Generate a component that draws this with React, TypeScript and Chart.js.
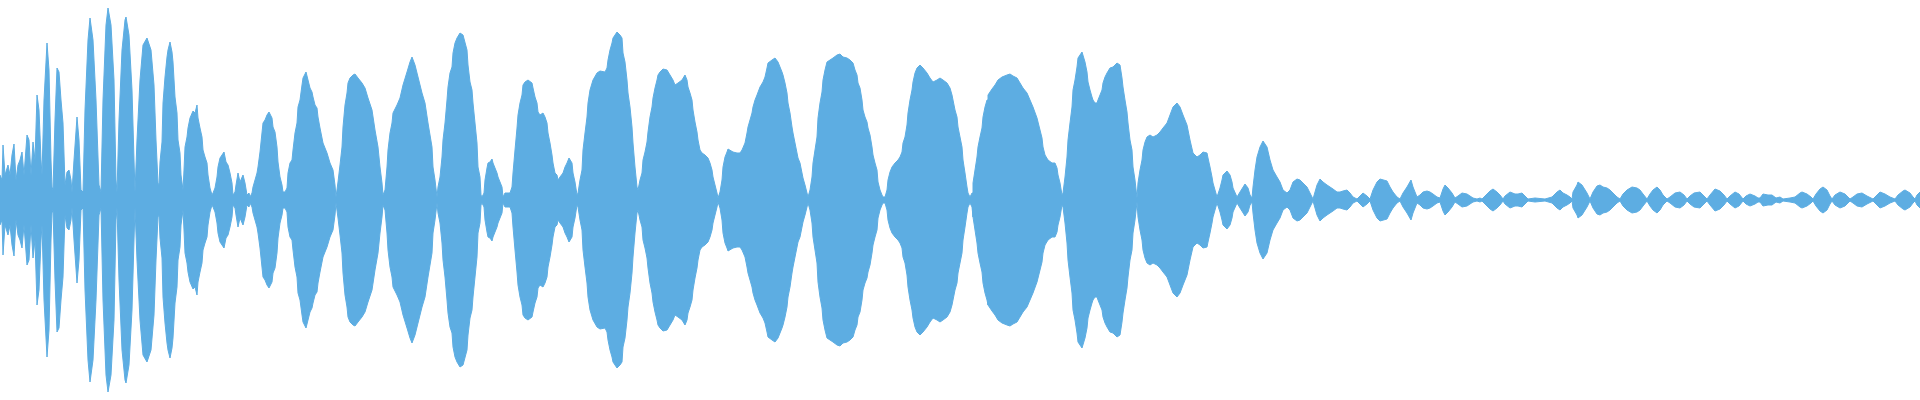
import React, { useEffect, useRef } from "react";
import { Chart, registerables } from "chart.js";

Chart.register(...registerables);

// Sample position (column index along the clip, 0..1920) of each envelope reading
const TIME = [
  0, 2, 3, 5, 8, 10, 12, 14, 16, 18, 20, 22, 24, 27, 29, 31, 33, 35, 37, 39, 41, 42, 44, 47, 49, 51, 52, 53, 55, 57, 59, 61, 63, 65, 67, 69, 71, 72, 74, 77, 79, 81, 83,
  85, 88, 90, 93, 96, 99, 101, 103, 106, 108, 111, 114, 116, 117, 119, 122, 125, 126, 129, 132, 134, 135, 137, 140, 143, 147, 151, 154, 156, 158, 159,
  160, 162, 163, 165, 167, 168, 170, 172, 173, 175, 177, 178, 180, 181, 183,
  184, 185, 187, 188, 190, 193, 195, 197, 198, 200, 202, 203, 205, 207, 208, 210, 212,
  213, 215, 217, 218, 220, 222, 224, 226, 228, 230, 232, 233,
  235, 236, 238, 240, 243, 245, 247, 249, 250,
  252, 253, 257, 258, 260, 263, 265, 267, 269, 272, 273, 275, 277, 278, 280, 282, 283, 285,
  287, 288, 290, 292, 293, 295, 297, 298, 300, 302, 303, 306, 308, 310, 312, 313, 315, 317, 318, 320,
  323, 327, 330, 333, 335, 336,
  338, 340, 342, 343, 345, 347, 348, 350, 353, 355, 358, 362, 365, 368, 372, 375, 378, 380, 382, 383,
  385, 387, 388, 390, 392, 393, 397, 400, 403, 407, 410, 412, 415, 418, 422, 425, 428, 432, 433, 435, 437,
  438, 440, 442, 443, 445, 447, 448, 450, 452, 453, 455, 457, 460, 463, 467, 468, 470, 472, 473, 475, 477, 478, 480, 481, 482,
  484, 485, 487, 488, 490, 492, 493, 495, 497, 498, 500, 502, 503, 505, 510,
  512, 513, 515, 517, 518, 520, 522, 523, 525, 528, 532, 533, 535, 537, 538, 540, 543, 545, 547, 548, 550, 552, 553, 555, 557, 558,
  560, 563, 565, 567, 569, 572, 573, 575, 577,
  578, 580, 582, 583, 585, 587, 588, 590, 593, 597, 600, 605, 607, 608, 610, 612, 613, 617, 620, 622, 623, 625, 627, 628, 630, 632, 633, 635, 637, 638,
  640, 642, 643, 645, 647, 648, 650, 652, 653, 655, 657, 658, 660, 663, 667, 670, 673, 675, 678, 682, 685, 687, 688, 690, 692, 693, 695, 697, 698, 700, 702, 705, 708, 710, 712, 713, 715, 717, 718,
  720, 722, 723, 725, 727, 728, 733, 737, 740, 742, 745, 747, 748, 750, 752, 753, 755, 757, 760, 763, 765, 767, 768, 772, 775, 778, 782, 783, 785, 787, 788, 790, 792, 793, 795, 797, 798, 800,
  802, 803, 805, 807, 808,
  810, 812, 813, 815, 817, 818, 820, 822, 823, 825, 827, 830, 833, 837, 840, 843, 847, 850, 853, 855, 857, 858, 860, 862, 863, 865, 867, 868, 870, 872, 873, 875, 877, 878, 880, 882, 883,
  885, 887, 888, 890, 892, 895, 898, 900, 902, 903, 905, 907, 908, 910, 912, 913, 915, 917, 920, 923, 927, 930, 933, 937, 940, 943, 947, 950, 952, 953, 955, 957, 958, 960,
  962, 963, 965, 967, 968, 970, 972,
  973, 975, 977, 978, 980, 982, 983, 985, 987, 988, 992, 995, 998, 1002, 1007, 1010, 1013, 1017, 1020, 1023, 1027, 1030, 1033, 1037, 1040, 1042, 1043, 1045, 1048, 1052, 1055, 1057, 1058, 1060, 1062,
  1063, 1065, 1067, 1068, 1070, 1072, 1073, 1075, 1077, 1078, 1082, 1085, 1087, 1088, 1090, 1092, 1093, 1095, 1097, 1098, 1100, 1102, 1103, 1105, 1107, 1110, 1113, 1117, 1120,
  1122, 1123, 1125, 1127, 1128, 1130, 1132, 1133, 1135, 1137,
  1138, 1140, 1142, 1143, 1145, 1147, 1150, 1153, 1157, 1160, 1163, 1167, 1170, 1173, 1177, 1180, 1183, 1187, 1190, 1193, 1197, 1200, 1203, 1207, 1208, 1210, 1212, 1213, 1215, 1217,
  1220, 1222, 1223, 1227, 1230, 1232, 1233, 1237,
  1240, 1245, 1248, 1250, 1252,
  1253, 1255, 1257, 1260, 1263, 1267, 1270, 1273, 1277, 1280,
  1283, 1287, 1290, 1293, 1297, 1300, 1303, 1307, 1310, 1313,
  1315, 1317, 1320, 1323, 1327, 1330, 1333, 1337, 1340, 1343, 1347, 1350, 1353, 1357,
  1360, 1363, 1367, 1370,
  1373, 1377, 1380, 1387, 1390, 1393, 1397, 1400,
  1403, 1407, 1411, 1413, 1417,
  1420, 1423, 1427, 1430, 1433, 1437, 1440,
  1441, 1443, 1445, 1448, 1452, 1455,
  1458, 1462, 1467, 1470, 1473, 1477, 1480, 1482,
  1483, 1487, 1490, 1493, 1497, 1500, 1503,
  1505, 1510, 1515, 1518, 1522, 1525, 1528,
  1535, 1545,
  1552, 1557, 1560, 1563, 1567, 1570, 1572,
  1573, 1577, 1578, 1582, 1587, 1590,
  1593, 1597, 1600,
  1603, 1607, 1610, 1613, 1617, 1620,
  1623, 1627, 1632, 1637, 1640, 1643, 1647,
  1650, 1653, 1657, 1660, 1663, 1667,
  1670, 1675, 1680, 1684, 1687,
  1690, 1694, 1700, 1703, 1707,
  1710, 1715, 1720, 1724, 1727,
  1730, 1735, 1739, 1743,
  1746, 1750, 1755, 1758, 1760,
  1763, 1768, 1772, 1776,
  1780, 1783, 1790,
  1795, 1800, 1802, 1807, 1811, 1813,
  1816, 1820, 1823, 1827, 1830, 1832,
  1835, 1840, 1845, 1848, 1850,
  1853, 1857, 1862, 1867, 1871, 1873,
  1877, 1880, 1885, 1890, 1895,
  1898, 1903, 1905, 1910, 1913, 1915,
  1917, 1920,
];

// Peak amplitude of the waveform at each TIME (symmetric around zero, full scale = 200)
const AMPLITUDE = [
  25, 20, 55, 25, 35, 25, 45, 56, 20, 35, 40, 48, 25, 65, 60, 25, 58, 40, 105, 90, 40, 25, 100, 157, 130, 40, 13, 10, 80, 132, 128, 100, 77, 15, 28, 30, 20, 8, 40, 83, 60, 10, 8,
  90, 160, 182, 160, 100, 15, 8, 100, 175, 192, 175, 120, 20, 8, 80, 150, 180, 183, 165, 110, 40, 8, 60, 120, 155, 162, 150, 115, 60, 17, 15,
  38, 58, 97, 123, 143, 150, 158, 148, 138, 103, 87, 60, 47, 25, 10,
  30, 53, 63, 72, 82, 89, 87, 95, 82, 72, 63, 50, 43, 37, 25, 12, 5,
  7, 12, 23, 33, 42, 45, 48, 38, 35, 27, 17, 5,
  8, 15, 27, 18, 25, 17, 5, 7, 3,
  7, 13, 27, 33, 48, 77, 80, 85, 88, 82, 73, 68, 53, 38, 23, 15, 8, 8,
  12, 27, 37, 40, 50, 67, 77, 93, 100, 115, 122, 128, 120, 112, 108, 103, 95, 92, 83, 72,
  57, 47, 37, 30, 15, 3,
  18, 35, 53, 73, 95, 107, 117, 122, 125, 126, 122, 117, 112, 102, 90, 70, 53, 33, 17, 5,
  10, 33, 50, 67, 77, 87, 95, 102, 115, 128, 138, 143, 135, 123, 107, 97, 77, 53, 33, 20, 3,
  13, 23, 43, 60, 77, 100, 113, 127, 133, 147, 157, 162, 167, 165, 150, 135, 118, 110, 97, 77, 57, 33, 23, 5, 3,
  7, 20, 32, 37, 38, 41, 37, 32, 27, 23, 18, 13, 3, 7, 7,
  13, 27, 50, 72, 85, 97, 105, 115, 118, 120, 117, 112, 103, 97, 88, 85, 87, 83, 77, 67, 57, 45, 37, 27, 25, 20,
  23, 27, 33, 37, 42, 37, 27, 18, 5,
  7, 20, 30, 50, 67, 83, 97, 110, 120, 127, 129, 128, 132, 140, 150, 157, 162, 168, 165, 162, 147, 138, 120, 107, 93, 73, 57, 33, 13, 10,
  20, 27, 40, 48, 58, 68, 83, 93, 102, 112, 120, 125, 128, 131, 130, 125, 120, 115, 117, 120, 125, 120, 113, 107, 100, 90, 78, 68, 60, 50, 47, 45, 42, 37, 30, 23, 15, 7, 2,
  8, 20, 33, 43, 48, 51, 48, 47, 47, 50, 57, 67, 73, 80, 87, 93, 100, 105, 113, 118, 123, 132, 137, 140, 142, 138, 128, 125, 117, 107, 97, 87, 73, 67, 57, 47, 42, 37,
  27, 22, 15, 7, 3,
  10, 23, 37, 50, 63, 82, 97, 108, 120, 130, 138, 140, 142, 145, 146, 143, 142, 140, 137, 130, 125, 117, 112, 100, 90, 83, 78, 72, 65, 53, 45, 37, 30, 18, 10, 5, 3,
  3, 10, 20, 28, 33, 37, 40, 43, 48, 57, 63, 75, 87, 100, 110, 118, 127, 132, 135, 132, 127, 122, 118, 120, 122, 120, 117, 112, 105, 100, 90, 83, 73, 63,
  53, 40, 27, 13, 7, 3, 7,
  17, 30, 43, 53, 63, 72, 83, 93, 100, 105, 111, 115, 120, 123, 125, 126, 124, 122, 117, 112, 107, 100, 93, 82, 70, 62, 53, 45, 40, 37, 37, 32, 25, 17, 5,
  7, 23, 43, 60, 77, 93, 110, 120, 133, 142, 148, 138, 128, 118, 110, 103, 100, 97, 97, 100, 105, 110, 117, 123, 127, 132, 133, 137, 135,
  122, 113, 100, 88, 77, 60, 50, 33, 20, 2,
  17, 30, 40, 50, 58, 63, 65, 63, 65, 68, 72, 77, 85, 93, 97, 93, 85, 75, 60, 47, 43, 45, 48, 47, 42, 33, 23, 17, 10, 3,
  12, 20, 25, 29, 25, 18, 12, 3,
  8, 16, 12, 5, 2,
  13, 30, 43, 53, 59, 53, 40, 30, 23, 18,
  10, 7, 10, 18, 21, 20, 17, 13, 7, 1,
  8, 15, 21, 18, 15, 13, 11, 8, 8, 9, 10, 7, 3, 1,
  4, 7, 4, 1,
  10, 18, 21, 19, 13, 8, 3, 1,
  7, 13, 20, 13, 3,
  5, 8, 9, 8, 6, 3, 2,
  5, 11, 15, 12, 7, 2,
  4, 7, 6, 4, 2, 1, 2, 1,
  2, 6, 9, 11, 8, 5, 1,
  4, 8, 6, 6, 7, 4, 1,
  2, 1,
  3, 8, 10, 7, 5, 3, 1,
  8, 15, 18, 15, 7, 1,
  8, 14, 15,
  13, 12, 10, 7, 3, 1,
  6, 10, 13, 12, 10, 6, 1,
  6, 10, 13, 10, 5, 1,
  3, 7, 8, 5, 1,
  4, 7, 8, 5, 1,
  5, 11, 9, 5, 1,
  4, 8, 6, 1,
  4, 6, 4, 2, 2,
  6, 5, 5, 2,
  3, 1, 2,
  3, 7, 8, 6, 3, 1,
  6, 11, 13, 10, 4, 1,
  5, 8, 6, 3, 1,
  3, 6, 7, 4, 2, 1,
  5, 8, 6, 3, 1,
  5, 9, 10, 7, 3, 1,
  5, 8,
];

const WAVE_COLOR = "#5DADE2";

export default function App() {
  const canvasRef = useRef<HTMLCanvasElement | null>(null);

  useEffect(() => {
    if (!canvasRef.current) return;
    const n = Math.min(TIME.length, AMPLITUDE.length);
    const upper = [] as { x: number; y: number }[];
    const lower = [] as { x: number; y: number }[];
    for (let i = 0; i < n; i++) {
      upper.push({ x: TIME[i], y: Math.max(AMPLITUDE[i], 1) });
      lower.push({ x: TIME[i], y: -Math.max(AMPLITUDE[i], 1) });
    }
    const chart = new Chart(canvasRef.current, {
      type: "line",
      data: {
        datasets: [
          {
            data: upper,
            borderColor: WAVE_COLOR,
            backgroundColor: WAVE_COLOR,
            borderWidth: 1,
            pointRadius: 0,
            tension: 0,
            fill: "origin",
          },
          {
            data: lower,
            borderColor: WAVE_COLOR,
            backgroundColor: WAVE_COLOR,
            borderWidth: 1,
            pointRadius: 0,
            tension: 0,
            fill: "origin",
          },
        ],
      },
      options: {
        animation: false,
        responsive: true,
        maintainAspectRatio: false,
        layout: { padding: 0 },
        plugins: {
          legend: { display: false },
          tooltip: { enabled: false },
          title: { display: false },
        },
        scales: {
          x: { type: "linear", min: 0, max: 1920, display: false },
          y: { type: "linear", min: -200, max: 200, display: false },
        },
      },
    });
    return () => chart.destroy();
  }, []);

  return (
    <div
      style={{
        position: "fixed",
        left: 0,
        top: 0,
        width: "1920px",
        height: "400px",
        background: "#ffffff",
      }}
    >
      <canvas ref={canvasRef} />
    </div>
  );
}
